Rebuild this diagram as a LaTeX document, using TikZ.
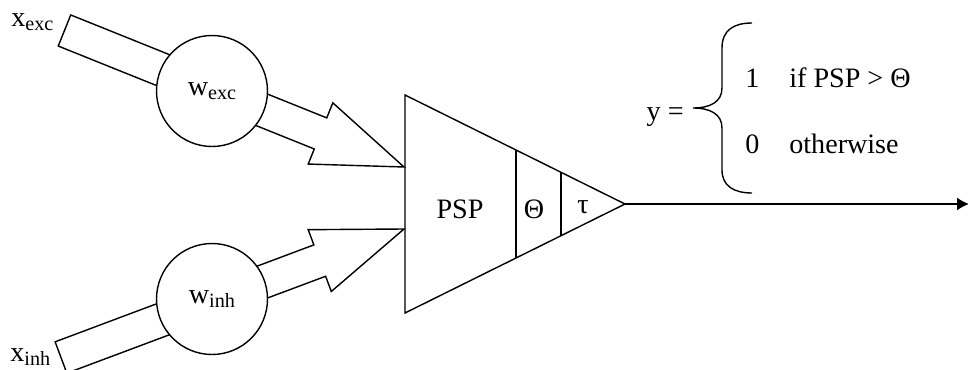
\documentclass[tikz,border=0pt]{standalone}
\usepackage{fontspec}
\setmainfont{Liberation Serif}
\usepackage{tikz}
\usetikzlibrary{arrows.meta, calc}
\newcommand{\lowsub}[1]{\raisebox{-2.6pt}{\fontsize{11.5}{12}\selectfont #1}}
\tikzset{
  blockarrow/.style={draw, line width=0.8pt, fill=white, line join=miter},
  weightcirc/.style={
    circle, draw, line width=0.8pt, fill=white,
    minimum size=2.22cm, inner sep=0pt,
    font=\fontsize{16}{18}\selectfont
  },
  somabody/.style={draw, line width=0.8pt, line join=miter},
  outarrow/.style={-{Latex[length=2.4mm, width=2.6mm]}, line width=0.8pt},
  lbl/.style={inner sep=0pt, font=\fontsize{16}{18}\selectfont},
}

\begin{document}
\begin{tikzpicture}[x=0.02cm, y=-0.02cm]
  \useasboundingbox (0,0) rectangle (968,369);

  % Inputs
  \node[lbl, anchor=base west] (xexc) at (11,26) {x\lowsub{exc}};
  \node[lbl, anchor=base west] (xinh) at (10,361) {x\lowsub{inh}};
  \coordinate (excS) at (64.5,30.5);
  \coordinate (inhS) at (61,357.5);

  % Neuron body
  \coordinate (tTop) at (405,95);
  \coordinate (tBot) at (405,313);
  \coordinate (tApex) at (625,204);
  \coordinate (excT) at (404,167);
  \coordinate (inhT) at (404,229);

  % Block arrows (drawn first, circles sit on top)
  \coordinate (excN) at ($(excT)!1.8cm!(excS)$);
  \draw[blockarrow] ($(excS)!0.335cm!90:(excT)$) -- ($(excN)!0.335cm!-90:(excS)$)
    -- ($(excN)!0.66cm!-90:(excS)$) -- (excT) -- ($(excN)!0.66cm!90:(excS)$)
    -- ($(excN)!0.335cm!90:(excS)$) -- ($(excS)!0.335cm!-90:(excT)$) -- cycle;
  \coordinate (inhN) at ($(inhT)!1.8cm!(inhS)$);
  \draw[blockarrow] ($(inhS)!0.335cm!90:(inhT)$) -- ($(inhN)!0.335cm!-90:(inhS)$)
    -- ($(inhN)!0.66cm!-90:(inhS)$) -- (inhT) -- ($(inhN)!0.66cm!90:(inhS)$)
    -- ($(inhN)!0.335cm!90:(inhS)$) -- ($(inhS)!0.335cm!-90:(inhT)$) -- cycle;

  % Weights
  \node[weightcirc] (wexc) at (212,91) {w\lowsub{exc}};
  \node[weightcirc] (winh) at (212,299) {w\lowsub{inh}};

  % Triangle with threshold and time constant
  \draw[somabody] (tTop) -- (tApex) -- (tBot) -- cycle;
  \draw[somabody] ($(tTop)!0.505!(tApex)$) -- ($(tBot)!0.505!(tApex)$);
  \draw[somabody] ($(tTop)!0.709!(tApex)$) -- ($(tBot)!0.709!(tApex)$);
  \node[lbl] (psp) at (460,209) {PSP};
  \node[lbl] (theta) at (534,209) {Θ};
  \node[lbl] (tau) at (583,207) {τ};

  % Output
  \coordinate (yEnd) at (969,204);
  \draw[outarrow] (tApex) -- (yEnd);

  % Firing rule
  \node[lbl, anchor=base east] (yeq) at (684,120) {y =};
  \draw[line width=0.8pt] (752,23) .. controls (734,23) and (722,30) .. (722,48)
    -- (722,88) .. controls (722,102) and (710,108) .. (693,108)
    .. controls (710,108) and (722,114) .. (722,128)
    -- (722,170) .. controls (722,186) and (734,193) .. (752,193);
  \node[lbl, anchor=base west] (one) at (745,87) {1};
  \node[lbl, anchor=base west] (cond) at (789,87) {if PSP > Θ};
  \node[lbl, anchor=base west] (zero) at (745,153) {0};
  \node[lbl, anchor=base west] (other) at (789,153) {otherwise};
\end{tikzpicture}
\end{document}
